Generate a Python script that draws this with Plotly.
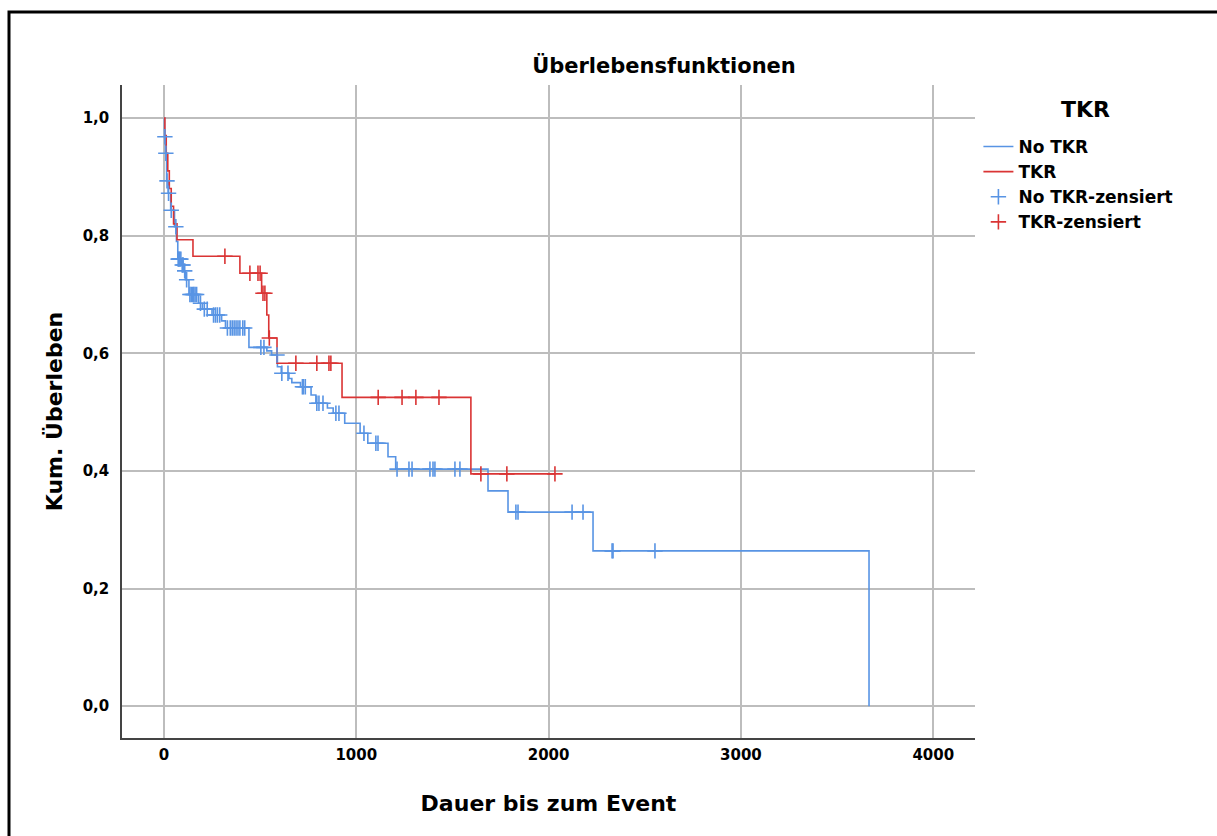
import numpy as np
import plotly.graph_objects as go

# ---- data ----
blue_times = [0, 3, 8, 14, 22, 35, 55, 65, 72, 90, 105, 112, 130, 180, 200, 250, 300, 320,
              442, 535, 560, 590, 610, 650, 665, 710, 765, 790, 850, 880, 940, 1020, 1060,
              1165, 1205, 1685, 1789, 2231, 3666]
blue_surv = [1.0, 0.968, 0.94, 0.893, 0.872, 0.843, 0.815, 0.79, 0.76, 0.75, 0.74, 0.725, 0.70,
             0.685, 0.675, 0.665, 0.655, 0.643, 0.61, 0.604, 0.597, 0.577, 0.566, 0.557, 0.55,
             0.543, 0.529, 0.515, 0.507, 0.498, 0.481, 0.464, 0.447, 0.424, 0.403, 0.366,
             0.33, 0.264, 0.0]
blue_cens = [5, 10, 16, 24, 38, 62, 74, 78, 82, 88, 95, 100, 108, 118, 135, 142, 150, 155, 162,
             170, 190, 210, 225, 258, 268, 278, 290, 330, 345, 355, 365, 375, 385, 395, 410, 420,
             504, 520, 588, 613, 645, 720, 725, 735, 795, 806, 827, 894, 910, 1040, 1102, 1113,
             1212, 1274, 1290, 1383, 1399, 1409, 1513, 1539, 1830, 1841, 2122, 2179, 2330, 2335,
             2553]

red_times = [0, 5, 12, 20, 28, 38, 50, 68, 151, 395, 508, 535, 545, 588, 926, 1596]
red_surv = [1.0, 0.97, 0.94, 0.91, 0.88, 0.85, 0.82, 0.793, 0.765, 0.736, 0.702, 0.665, 0.626,
            0.583, 0.525, 0.395]
red_cens = [317, 447, 489, 500, 515, 525, 548, 686, 795, 858, 868, 1114, 1238, 1310, 1430,
            1648, 1783, 2033]

x_ticks = [0, 1000, 2000, 3000, 4000]
y_ticks = [0.0, 0.2, 0.4, 0.6, 0.8, 1.0]

BLUE = "rgb(88,148,228)"
RED = "rgb(218,52,52)"
FONT = "DejaVu Sans, Liberation Sans, sans-serif"


def step_line(times, surv, cens):
    t = list(times)
    s = list(surv)
    if cens and max(cens) > t[-1]:
        t.append(max(cens))
        s.append(s[-1])
    return t, s


def cens_values(times, surv, cens):
    idx = np.searchsorted(np.array(times), np.array(cens), side="right") - 1
    return [surv[i] for i in idx]


fig = go.Figure()
bt, bs = step_line(blue_times, blue_surv, blue_cens)
rt, rs = step_line(red_times, red_surv, red_cens)

fig.add_trace(go.Scatter(x=bt, y=bs, mode="lines", line=dict(color=BLUE, width=1.6, shape="hv"),
                         name="No TKR"))
fig.add_trace(go.Scatter(x=rt, y=rs, mode="lines", line=dict(color=RED, width=1.6, shape="hv"),
                         name="TKR"))
fig.add_trace(go.Scatter(x=blue_cens, y=cens_values(blue_times, blue_surv, blue_cens),
                         mode="markers", name="No TKR-zensiert",
                         marker=dict(symbol="cross-thin", size=11,
                                     line=dict(color=BLUE, width=1.6))))
fig.add_trace(go.Scatter(x=red_cens, y=cens_values(red_times, red_surv, red_cens),
                         mode="markers", name="TKR-zensiert",
                         marker=dict(symbol="cross-thin", size=11,
                                     line=dict(color=RED, width=1.6))))

# outer frame
fig.add_shape(type="rect", xref="paper", yref="paper",
              x0=(9 - 122) / 853, x1=1.4, y0=-0.3, y1=(738 - 12) / 653,
              line=dict(color="black", width=3), fillcolor="rgba(0,0,0,0)", layer="above")

# legend title
fig.add_annotation(text="TKR", xref="paper", yref="paper",
                   x=(1085 - 122) / 853, y=(738 - 110) / 653, xanchor="center", yanchor="middle",
                   showarrow=False, font=dict(size=22, weight="bold", family=FONT, color="black"))

fig.update_layout(
    width=1217, height=836,
    margin=dict(l=122, r=242, t=85, b=98),
    paper_bgcolor="white", plot_bgcolor="white",
    separators=",.",
    font=dict(family=FONT, color="black"),
    title=dict(text="Überlebensfunktionen", x=664 / 1217, xref="container", xanchor="center",
               y=1 - 66 / 836, yref="container", yanchor="middle",
               font=dict(size=21, weight="bold", family=FONT)),
    legend=dict(x=1.004, y=(738 - 129) / 653, xanchor="left", yanchor="top",
                font=dict(size=17, weight="bold", family=FONT),
                bgcolor="rgba(0,0,0,0)", traceorder="normal", itemwidth=30),
    xaxis=dict(range=[-218, 4217], tickvals=x_ticks, tickformat="d",
               showgrid=True, gridcolor="#BDBDBD", gridwidth=1.5,
               showline=True, linecolor="#444", linewidth=1.5, zeroline=False,
               ticks="", ticklabelstandoff=2,
               tickfont=dict(size=15, weight="bold", family=FONT),
               title=dict(text="Dauer bis zum Event", standoff=33,
                          font=dict(size=22, weight="bold", family=FONT))),
    yaxis=dict(range=[-0.054, 1.056], tickvals=y_ticks, tickformat=".1f",
               showgrid=True, gridcolor="#BDBDBD", gridwidth=1.5,
               showline=True, linecolor="#444", linewidth=1.5, zeroline=False,
               ticks="", ticklabelstandoff=8,
               tickfont=dict(size=15, weight="bold", family=FONT),
               title=dict(text="Kum. Überleben", standoff=14,
                          font=dict(size=22, weight="bold", family=FONT))),
    showlegend=True,
)

fig.write_html("out.html")
